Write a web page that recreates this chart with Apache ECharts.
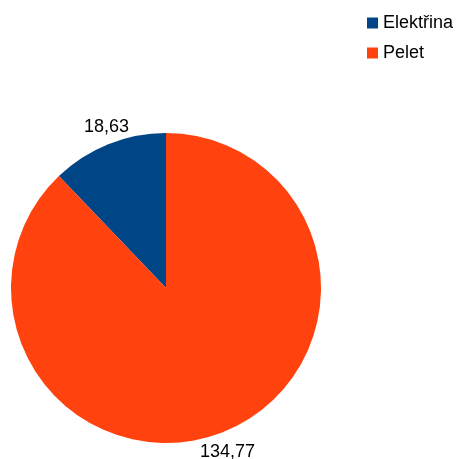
<!DOCTYPE html>
<html><head><meta charset="utf-8">
<script src="https://cdn.jsdelivr.net/npm/echarts@6/dist/echarts.min.js"></script>
<style>html,body{margin:0;padding:0;background:#fff}#c{width:459px;height:459px}</style>
</head><body><div id="c"></div>
<script>
const categories = ['Elektřina', 'Pelet'];
const values = [18.63, 134.77];
const colors = ['#004586', '#ff420e'];

const chart = echarts.init(document.getElementById('c'), null, {renderer: 'canvas'});
chart.setOption({
  animation: false,
  textStyle: {fontFamily: 'Liberation Sans', color: '#000'},
  legend: {
    orient: 'vertical', left: 367, top: 14, padding: 0,
    itemWidth: 11, itemHeight: 11, itemGap: 12,
    icon: 'rect',
    textStyle: {fontFamily: 'Liberation Sans', fontSize: 18, color: '#000'},
    data: categories
  },
  series: [{
    type: 'pie',
    center: [166, 288],
    radius: [0, 155],
    startAngle: 90,
    clockwise: false,
    label: {
      show: true, position: 'outside',
      fontFamily: 'Liberation Sans', fontSize: 18, color: '#000',
      formatter: p => p.value.toFixed(2).replace('.', ',')
    },
    labelLine: {show: false, length: 18, length2: 0},
    labelLayout: p => {
      const w = p.labelRect.width;
      return p.align === 'right' ? {dx: w / 2 + 10, dy: 0} : {dx: -(w / 2 + 8), dy: 3};
    },
    emphasis: {disabled: true},
    data: categories.map((c, i) => ({name: c, value: values[i], itemStyle: {color: colors[i]}}))
  }]
});
</script></body></html>
